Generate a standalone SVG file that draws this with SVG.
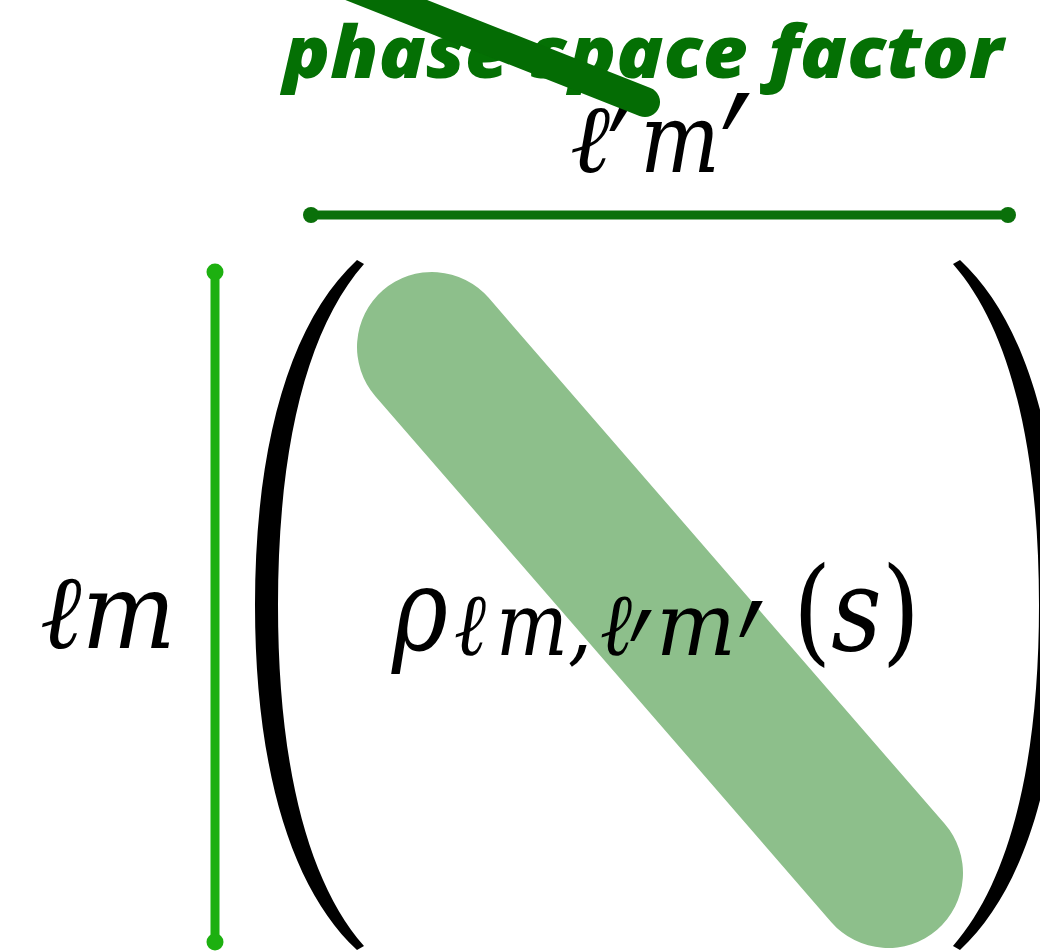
<svg xmlns="http://www.w3.org/2000/svg" width="1040" height="951" viewBox="0 0 1040 951">
<style>
.math{font-family:"DejaVu Serif","Liberation Serif",serif;font-style:italic;fill:#000}
.up{font-family:"DejaVu Serif","Liberation Serif",serif;font-style:normal;fill:#000}
.label{font-family:"Open Sans","Roboto",sans-serif;font-weight:800;font-style:italic;fill:#047004}
.pr{font-family:"DejaVu Serif","Liberation Serif",serif;font-style:italic;font-size:90px;fill:#000}
</style>
<rect width="1040" height="951" fill="#fff"/>
<g id="diagonal-band">
<line x1="432" y1="347" x2="888" y2="873" stroke="#8dbf8b" stroke-width="150" stroke-linecap="round"/>
</g>
<g id="connectors">
<line x1="311" y1="215" x2="1008" y2="215" stroke="#0a700a" stroke-width="9" stroke-linecap="round"/>
<circle cx="311" cy="215" r="8" fill="#0a700a"/>
<circle cx="1008" cy="215" r="8" fill="#0a700a"/>
<line x1="215" y1="272" x2="215" y2="942" stroke="#1db010" stroke-width="9" stroke-linecap="round"/>
<circle cx="215" cy="272" r="8.5" fill="#1db010"/>
<circle cx="215" cy="942" r="8.5" fill="#1db010"/>
</g>
<g id="parens">
<path id="lparen" d="M357 260 C290 322 255 445 255 605 C255 765 290 888 357 950 L364 946 C306 880 278 760 278 605 C278 450 306 330 364 264 Z" fill="#000"/>
<use href="#lparen" transform="translate(1317,0) scale(-1,1)"/>
</g>
<g id="col-label">
<text class="math" x="570" y="172" font-size="96" textLength="40" lengthAdjust="spacingAndGlyphs">ℓ</text>
<text class="pr" transform="translate(609,237) scale(1.4,2.15)">′</text>
<text class="math" x="640" y="172" font-size="96" textLength="80" lengthAdjust="spacingAndGlyphs">m</text>
<text class="pr" transform="translate(722,238) scale(1.4,2.2)">′</text>
</g>
<g id="row-label">
<text class="math" x="40" y="648" font-size="104" textLength="136" lengthAdjust="spacingAndGlyphs">ℓm</text>
</g>
<g id="element">
<text class="math" x="392" y="650" font-size="116" textLength="56" lengthAdjust="spacingAndGlyphs">ρ</text>
<text class="math" x="454" y="655" font-size="88" textLength="32" lengthAdjust="spacingAndGlyphs">ℓ</text>
<text class="math" x="496" y="655" font-size="88" textLength="96" lengthAdjust="spacingAndGlyphs">m,</text>
<text class="math" x="600" y="655" font-size="88" textLength="32" lengthAdjust="spacingAndGlyphs">ℓ</text>
<text class="pr" transform="translate(630,734) scale(1.1,1.9)">′</text>
<text class="math" x="656" y="655" font-size="88" textLength="80" lengthAdjust="spacingAndGlyphs">m</text>
<text class="pr" transform="translate(739,746) scale(1.2,2.2)">′</text>
<text class="up" x="793" y="650" font-size="116" textLength="127" lengthAdjust="spacingAndGlyphs">(<tspan class="math">s</tspan>)</text>
</g>
<g id="phase-space-label">
<text class="label" x="283" y="78" font-size="72" textLength="720" lengthAdjust="spacingAndGlyphs">phase space factor</text>
<line x1="300" y1="-34" x2="645" y2="102" stroke="#046c04" stroke-width="30" stroke-linecap="round"/>
</g>
</svg>
